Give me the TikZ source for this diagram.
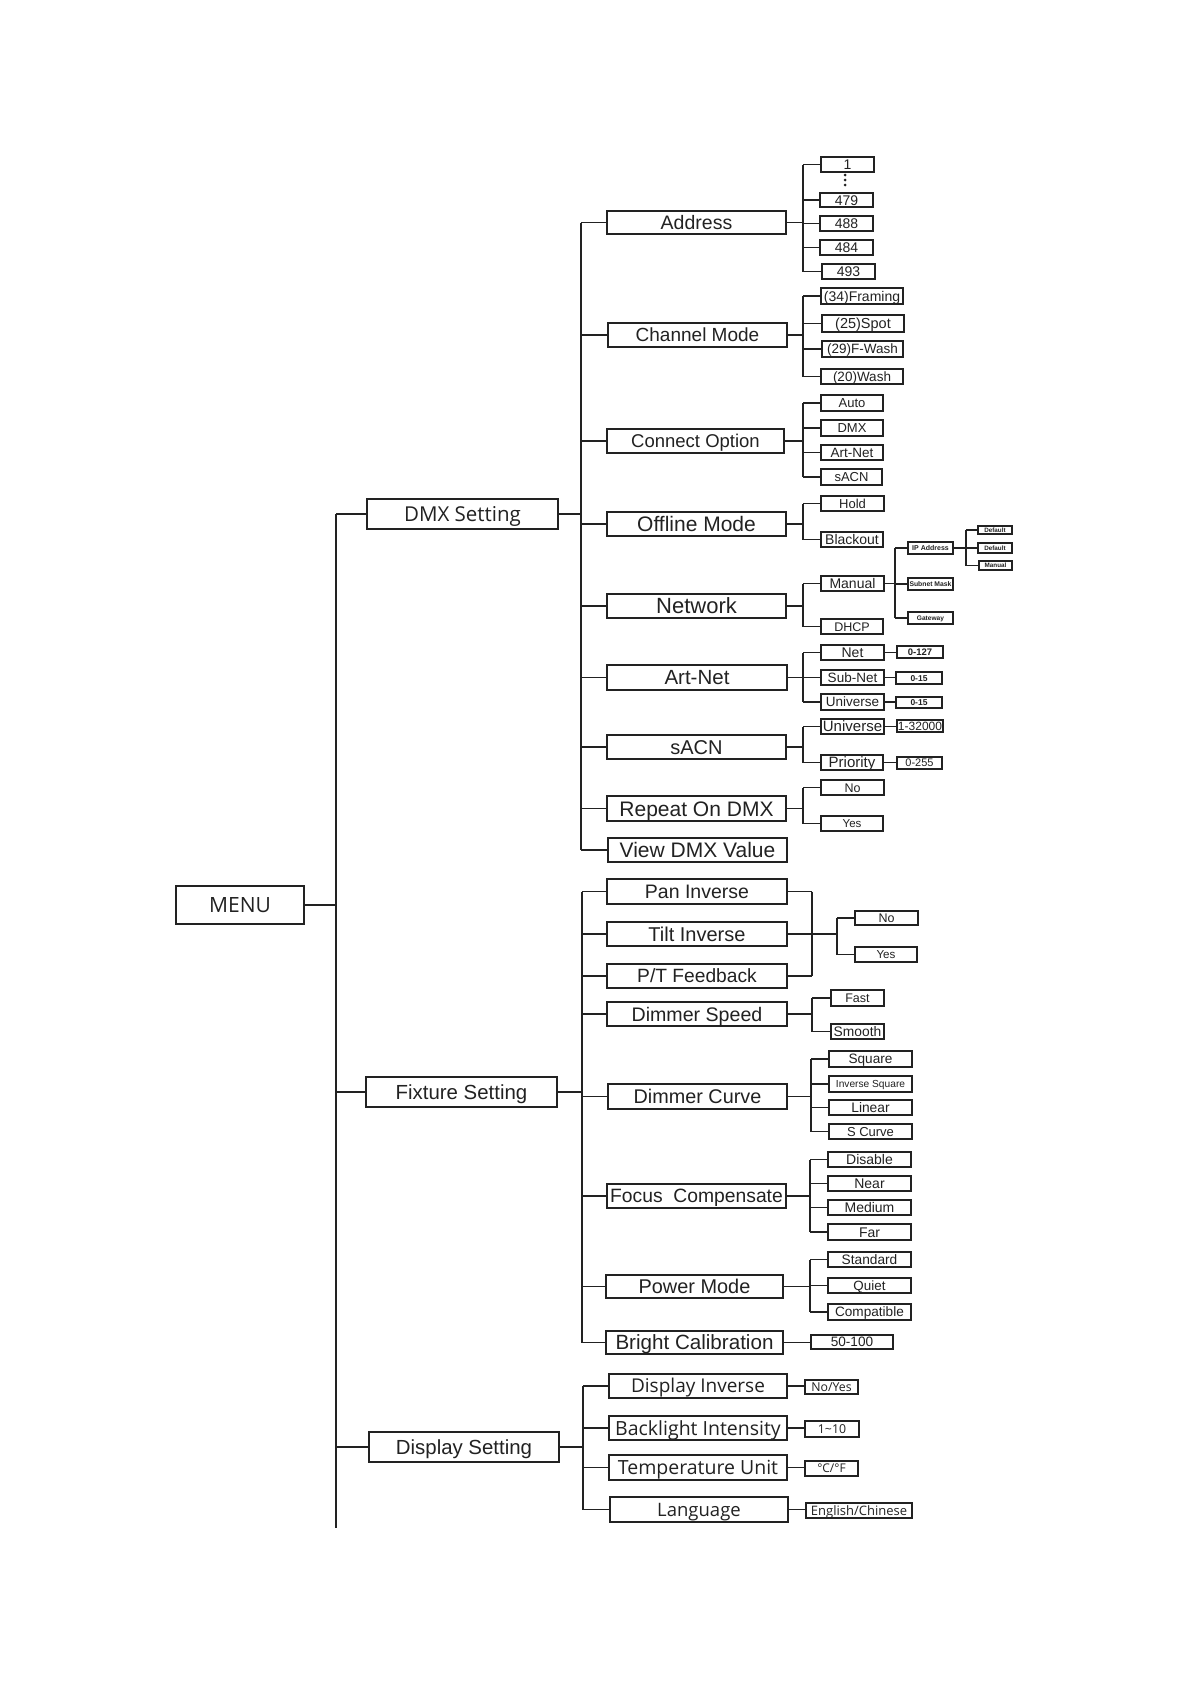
\documentclass[tikz,border=0pt]{standalone}
\usepackage{fontspec}
\setmainfont{Liberation Sans}
\newfontfamily\hum{Open Sans}
\definecolor{ink}{HTML}{222222}
\tikzset{
  mybox/.style={draw=ink, line width=1.4pt, inner sep=0pt, text=ink, align=center},
  conn/.style={draw=ink, line width=1.3pt},
}
% [opts]{name}{x1}{y1}{x2}{y2}{fontsize}{text}
\newcommand\bx[8][]{\node[mybox,minimum width={(#5-#3)*1pt},minimum height={(#6-#4)*1pt},
  font={\fontsize{#7}{#7}\selectfont},text height={#7*0.72pt},text depth=0pt,#1]
  (#2) at ({(#3+#5)/2},{(#4+#6)/2}) {#8};}
% {parent}{bus}{first child}{last child}{all children}
\newcommand\tree[5]{%
  \draw[conn] (#1.east) -- (#1.east -| #2);
  \draw[conn] (#3.west -| #2) -- (#4.west -| #2);
  \foreach \c in {#5}{\draw[conn] (\c.west) -- (\c.west -| #2);}
}
\newcommand\direct[2]{\draw[conn] (#1.east) -- (#1.east -| #2.west);}
\begin{document}
\begin{tikzpicture}[x=1pt,y=-1pt]
\fill[white] (0,0) rectangle (1191,1684);
\useasboundingbox (0,0) rectangle (1191,1684);

% ---- level 0/1
\bx{menu}{176}{886}{304}{924}{21}{\hum MENU}
\bx{dmx}{367}{499}{558}{529}{20.5}{\hum DMX Setting}
\bx{fix}{366}{1077}{557}{1107}{20.4}{Fixture Setting}
\bx{disp}{369}{1432}{559}{1462}{20.4}{Display Setting}

% ---- DMX setting children
\bx{addr}{607}{211}{786}{234}{19.5}{Address}
\bx{chm}{608}{323}{787}{347}{19}{Channel Mode}
\bx{con}{607}{429}{784}{453}{18.5}{Connect Option}
\bx{off}{607}{512}{786}{536}{21}{Offline Mode}
\bx{net}{607}{594}{786}{618}{22}{Network}
\bx{art}{607}{665}{787}{690}{20.5}{Art-Net}
\bx{sacn}{607}{735}{786}{759}{20}{sACN}
\bx{rep}{607}{796}{786}{821}{21}{Repeat On DMX}
\bx{view}{608}{838}{787}{862}{21}{View DMX Value}

% Address
\bx{a1}{821}{157}{874}{172}{14}{1}
\bx{a479}{820}{193}{873}{207}{14}{479}
\bx{a488}{820}{216}{873}{231}{14}{488}
\bx{a484}{820}{240}{873}{255}{14}{484}
\bx{a493}{822}{264}{875}{279}{14}{493}
% Channel mode
\bx{f34}{821}{288}{903}{304}{14}{(34)Framing}
\bx{s25}{822}{315}{904}{332}{14.5}{(25)Spot}
\bx{f29}{822}{341}{903}{357}{13.5}{(29)F-Wash}
\bx{w20}{821}{369}{903}{384}{13.5}{(20)Wash}
% Connect option
\bx{auto}{821}{395}{883}{411}{13}{Auto}
\bx{cdmx}{821}{420}{883}{436}{13}{DMX}
\bx{cart}{821}{445}{883}{460}{13.5}{Art-Net}
\bx{csacn}{821}{469}{882}{485}{13}{sACN}
% Offline
\bx{hold}{821}{496}{884}{511}{13}{Hold}
\bx{black}{821}{532}{883}{547}{14}{Blackout}
% Network
\bx{man}{821}{576}{884}{591}{14}{Manual}
\bx{dhcp}{821}{619}{883}{634}{12.5}{DHCP}
\bx{ip}{908}{542}{953}{554}{7}{\bfseries IP Address}
\bx{sub}{908}{578}{953}{590}{6.8}{\bfseries Subnet Mask}
\bx{gw}{908}{612}{953}{624}{6.6}{\bfseries Gateway}
\bx{d1}{978}{526}{1012}{534}{6.3}{\bfseries Default}
\bx{d2}{978}{543}{1012}{553}{6.3}{\bfseries Default}
\bx{m2}{979}{561}{1012}{570}{6.3}{\bfseries Manual}
% Art-Net
\bx{anet}{821}{645}{884}{660}{14}{Net}
\bx{asub}{821}{670}{884}{685}{13.5}{Sub-Net}
\bx{auni}{821}{694}{884}{710}{13.5}{Universe}
\bx{v127}{897}{646}{943}{658}{9.5}{\bfseries 0-127}
\bx{v15a}{896}{672}{942}{684}{8.5}{\bfseries 0-15}
\bx{v15b}{896}{697}{942}{708}{8.5}{\bfseries 0-15}
% sACN
\bx{suni}{821}{719}{884}{734}{15}{Universe}
\bx{spri}{821}{755}{883}{770}{15}{Priority}
\bx{v32}{897}{720}{943}{732}{12}{1-32000}
\bx{v255}{897}{757}{942}{769}{11}{0-255}
% Repeat
\bx{rno}{821}{780}{884}{795}{12.5}{No}
\bx{ryes}{821}{816}{883}{831}{11.5}{Yes}

% ---- Fixture setting children
\bx{pan}{607}{879}{787}{904}{19.5}{Pan Inverse}
\bx{tilt}{607}{922}{787}{946}{20}{Tilt Inverse}
\bx{ptf}{607}{964}{787}{988}{19.2}{P/T Feedback}
\bx{dsp}{607}{1002}{787}{1026}{19.6}{Dimmer Speed}
\bx{dcu}{608}{1084}{787}{1109}{19.8}{Dimmer Curve}
\bx{foc}{607}{1184}{786}{1208}{19.3}{Focus\ \ Compensate}
\bx{pow}{606}{1275}{783}{1298}{19.9}{Power Mode}
\bx{bri}{606}{1331}{783}{1354}{20.6}{Bright Calibration}

\bx{pno}{855}{911}{918}{925}{12.5}{No}
\bx{pyes}{855}{947}{917}{962}{11.6}{Yes}
\bx{fast}{831}{990}{884}{1006}{12.5}{Fast}
\bx{smooth}{831}{1024}{884}{1039}{13.8}{Smooth}
\bx{sq}{829}{1051}{912}{1067}{13.6}{Square}
\bx{isq}{829}{1076}{912}{1092}{10.2}{Inverse Square}
\bx{lin}{829}{1100}{912}{1115}{13.8}{Linear}
\bx{scu}{829}{1124}{912}{1139}{13}{S Curve}
\bx{dis}{828}{1152}{911}{1167}{14}{Disable}
\bx{near}{828}{1176}{911}{1191}{14}{Near}
\bx{med}{828}{1200}{911}{1215}{14}{Medium}
\bx{far}{828}{1224}{911}{1240}{14}{Far}
\bx{std}{828}{1252}{911}{1267}{13.7}{Standard}
\bx{quiet}{828}{1278}{911}{1293}{13.4}{Quiet}
\bx{comp}{828}{1304}{911}{1320}{13.6}{Compatible}
\bx{b50}{811}{1335}{893}{1349}{13.6}{50-100}

% ---- Display setting children
\bx{dinv}{609}{1374}{787}{1398}{19}{\hum Display Inverse}
\bx{back}{609}{1416}{787}{1440}{19.5}{\hum Backlight Intensity}
\bx{temp}{609}{1455}{787}{1480}{19.5}{\hum Temperature Unit}
\bx{lang}{610}{1497}{788}{1522}{18.5}{\hum Language}
\bx{noyes}{805}{1380}{858}{1394}{12.3}{\hum No/Yes}
\bx{one10}{805}{1421}{859}{1437}{12.3}{\hum 1\textasciitilde 10}
\bx{cf}{805}{1461}{858}{1476}{12}{\hum °C/°F}
\bx{eng}{806}{1503}{912}{1518}{13}{\hum English/Chinese}

% ---- bus coordinates
\coordinate (busM) at (336,0);
\coordinate (mainEnd) at (336,1528);
\coordinate (busD) at (581,0);
\coordinate (busF) at (582,0);
\coordinate (busS) at (583,0);
\coordinate (bA) at (803,0);
\coordinate (bMan) at (895,0);
\coordinate (bIP) at (966,0);
\coordinate (bPT) at (812,0);
\coordinate (bNY) at (837,0);
\coordinate (bDC) at (811,0);
\coordinate (bFo) at (810,0);

% ---- connectors
\draw[conn] (menu.east) -- (menu.east -| busM);
\draw[conn] (dmx.west -| busM) -- (mainEnd);
\foreach \c in {dmx,fix,disp}{\draw[conn] (\c.west) -- (\c.west -| busM);}

\tree{dmx}{busD}{addr}{view}{addr,chm,con,off,net,art,sacn,rep,view}
\tree{fix}{busF}{pan}{bri}{pan,tilt,ptf,dsp,dcu,foc,pow,bri}
\tree{disp}{busS}{dinv}{lang}{dinv,back,temp,lang}

\tree{addr}{bA}{a1}{a493}{a1,a479,a488,a484,a493}
\tree{chm}{bA}{f34}{w20}{f34,s25,f29,w20}
\tree{con}{bA}{auto}{csacn}{auto,cdmx,cart,csacn}
\tree{off}{bA}{hold}{black}{hold,black}
\tree{net}{bA}{man}{dhcp}{man,dhcp}
\tree{man}{bMan}{ip}{gw}{ip,sub,gw}
\tree{ip}{bIP}{d1}{m2}{d1,d2,m2}
\tree{art}{bA}{anet}{auni}{anet,asub,auni}
\tree{sacn}{bA}{suni}{spri}{suni,spri}
\tree{rep}{bA}{rno}{ryes}{rno,ryes}

\direct{anet}{v127}
\direct{asub}{v15a}
\direct{auni}{v15b}
\direct{suni}{v32}
\direct{spri}{v255}

% Pan / Tilt / PT feedback share one No/Yes choice
\draw[conn] (pan.east) -- (pan.east -| bPT);
\draw[conn] (ptf.east) -- (ptf.east -| bPT);
\draw[conn] (pan.east -| bPT) -- (ptf.east -| bPT);
\draw[conn] (tilt.east) -- (tilt.east -| bNY);
\draw[conn] (pno.west -| bNY) -- (pyes.west -| bNY);
\foreach \c in {pno,pyes}{\draw[conn] (\c.west) -- (\c.west -| bNY);}

\tree{dsp}{bPT}{fast}{smooth}{fast,smooth}
\tree{dcu}{bDC}{sq}{scu}{sq,isq,lin,scu}
\tree{foc}{bFo}{dis}{far}{dis,near,med,far}
\tree{pow}{bFo}{std}{comp}{std,quiet,comp}
\direct{bri}{b50}

\direct{dinv}{noyes}
\direct{back}{one10}
\direct{temp}{cf}
\direct{lang}{eng}

% vertical ellipsis between 1 and 479
\foreach \yy in {175,180,185}{\fill[ink] (845,\yy) circle (1.5pt);}
\end{tikzpicture}
\end{document}
